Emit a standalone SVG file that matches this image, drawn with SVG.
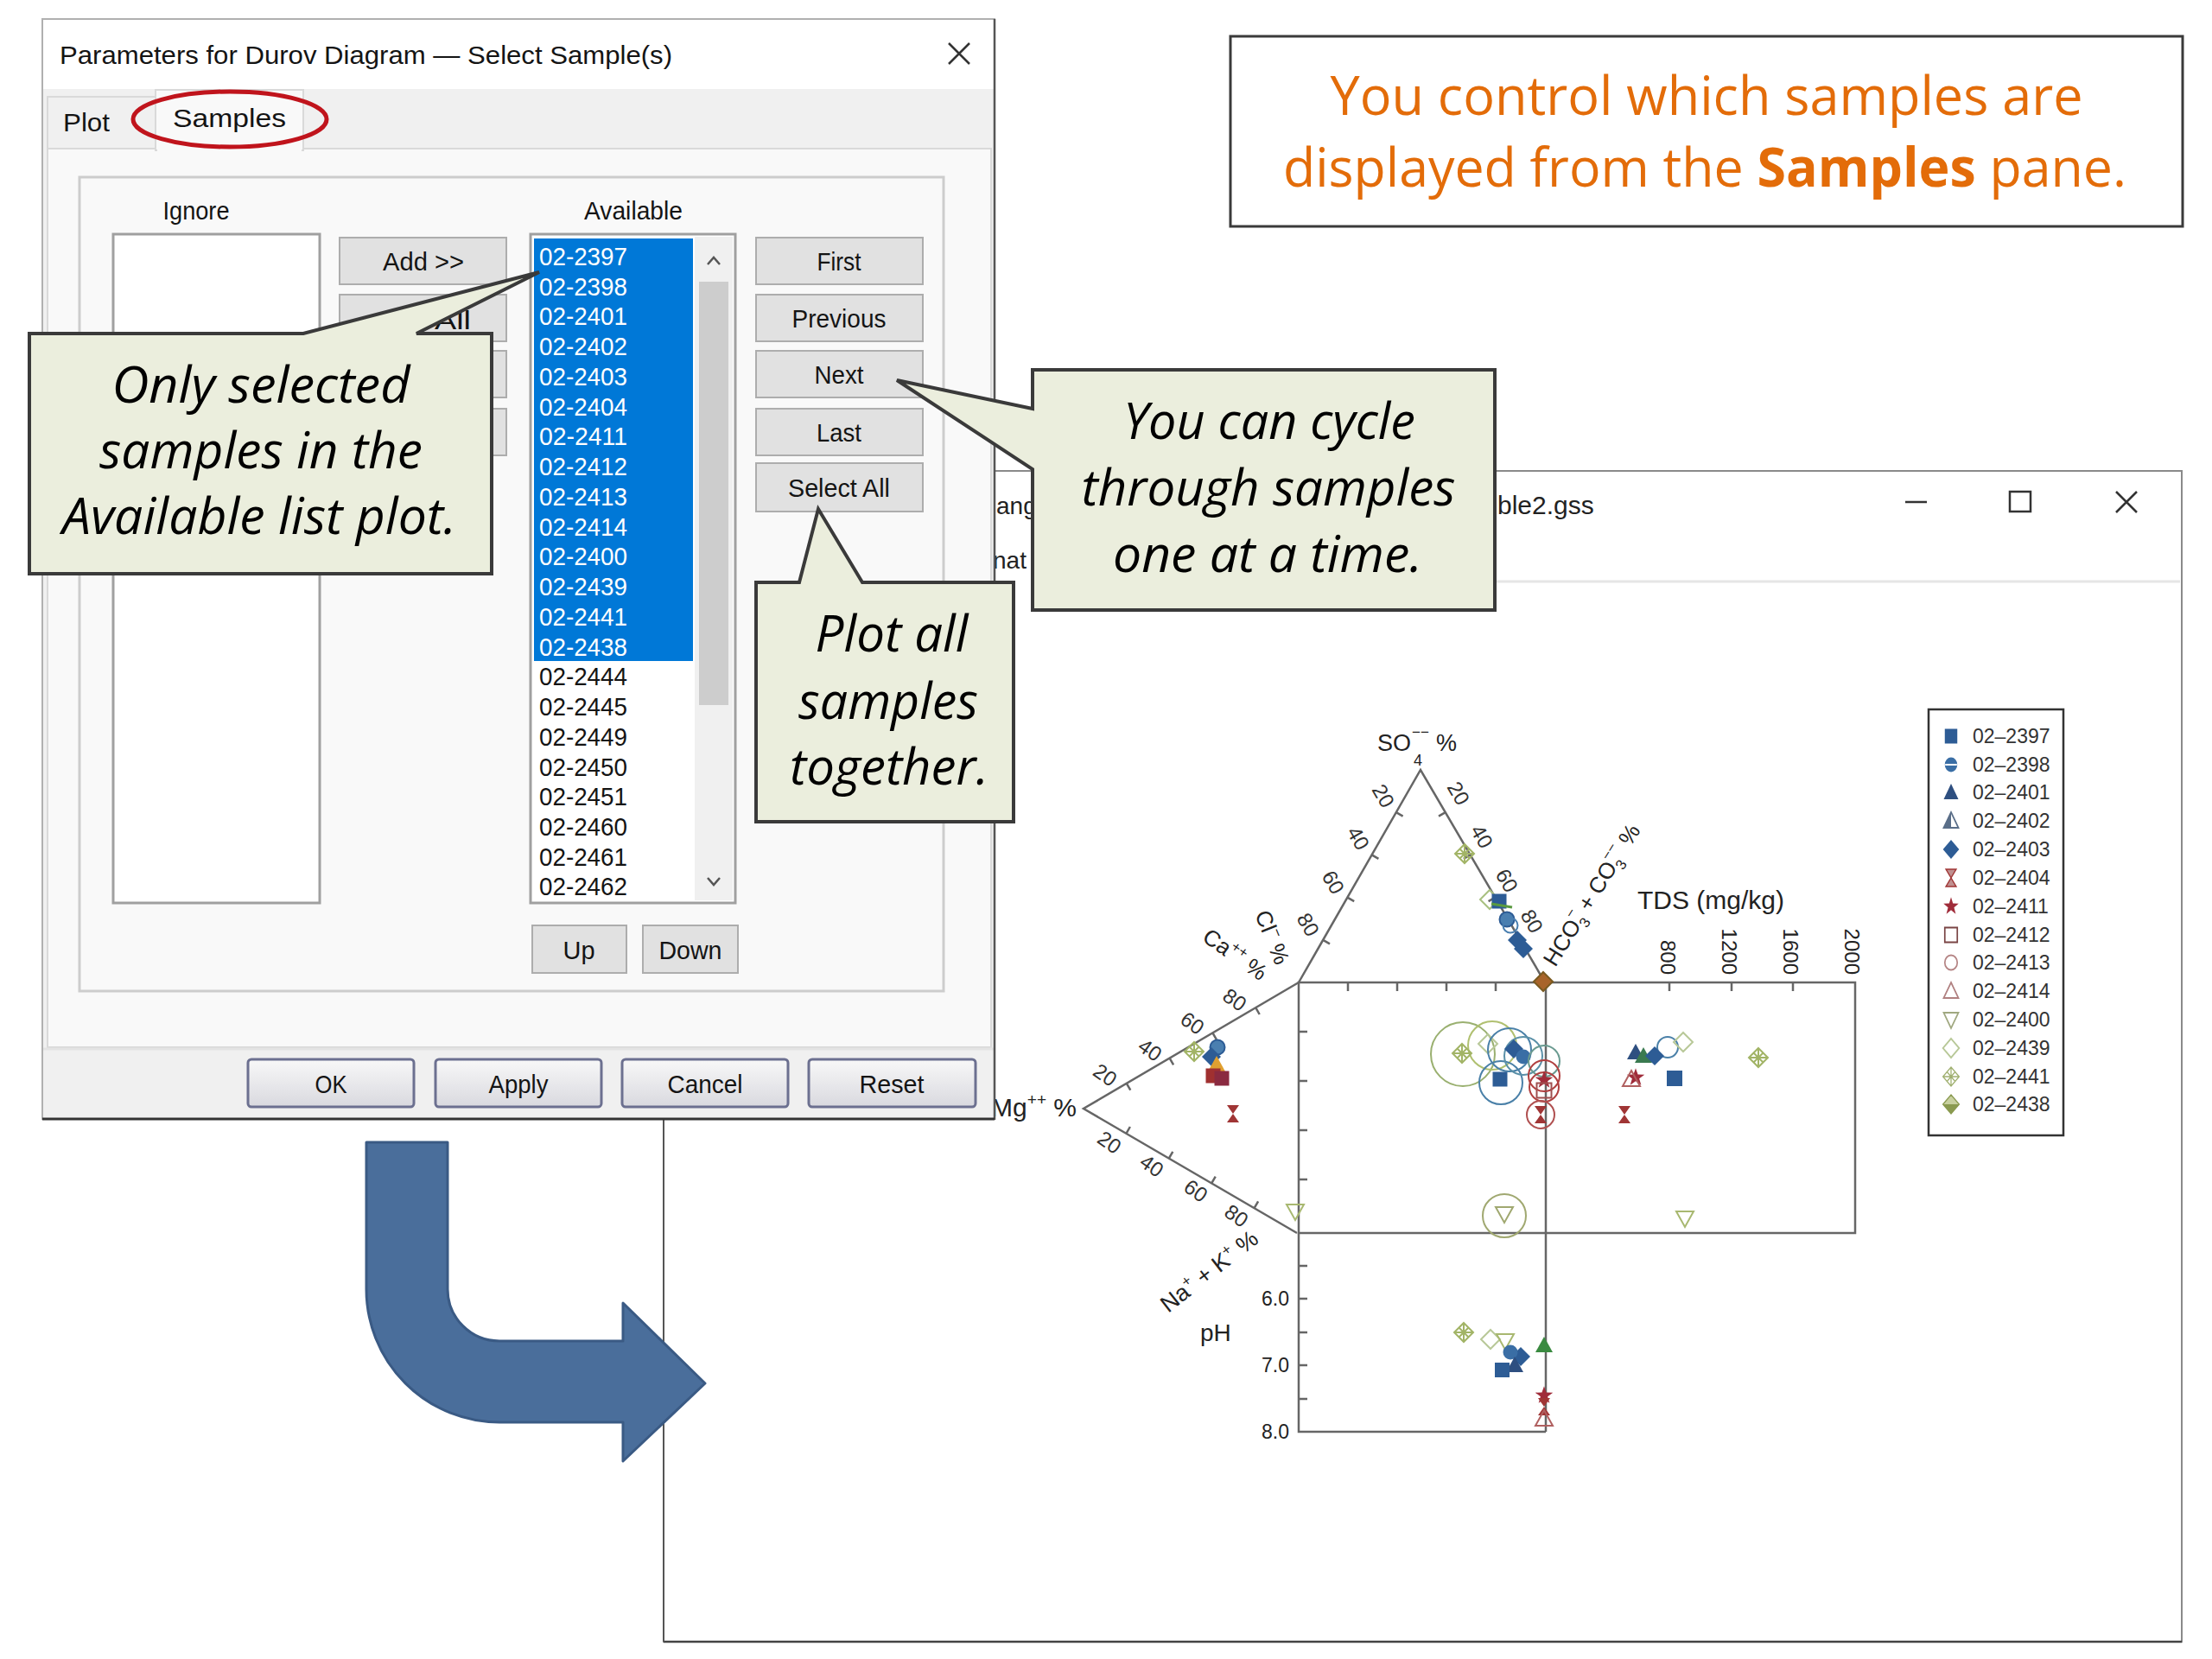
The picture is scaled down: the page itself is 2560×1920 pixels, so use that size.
<svg xmlns="http://www.w3.org/2000/svg" xmlns:xlink="http://www.w3.org/1999/xlink" width="2560" height="1920" viewBox="0 0 2560 1920">
<style>
.ui{font-family:"Liberation Sans",Arial,sans-serif;fill:#141414;font-size:30px}
.mid{text-anchor:middle}
.sel{fill:#ffffff}
.btn{fill:#e1e1e1;stroke:#adadad;stroke-width:2}
.bb{fill:url(#bgrad);stroke:#6c7090;stroke-width:3}
.co{font-family:"Open Sans","Noto Sans",sans-serif;font-style:italic;fill:#000;font-size:58px;text-anchor:middle}
.callout{fill:#ebeedd;stroke:#3a3a3a;stroke-width:4;stroke-linejoin:miter}
.ax{stroke:#666;stroke-width:2.5;fill:none}
.pl{font-family:"Liberation Sans",Arial,sans-serif;fill:#222}
.tk{font-family:"Liberation Sans",Arial,sans-serif;fill:#333;font-size:24px;text-anchor:middle;dominant-baseline:central}
.lg{font-family:"Liberation Sans",Arial,sans-serif;fill:#333;font-size:23px}
</style>
<defs>
<linearGradient id="bgrad" x1="0" y1="0" x2="0" y2="1"><stop offset="0" stop-color="#f8f8f8"/><stop offset="1" stop-color="#d9d9df"/></linearGradient>
<rect id="s-sq" x="-8.5" y="-8.5" width="17" height="17"/>
<circle id="s-ci" r="8.5"/>
<polygon id="s-tri" points="0,-10 10,8 -10,8"/>
<polygon id="s-dtri" points="-10,-8 10,-8 0,10"/>
<polygon id="s-dia" points="0,-11 11,0 0,11 -11,0"/>
<path id="s-hg" d="M-7,-10 H7 L-7,10 H7 Z"/>
<polygon id="s-star" points="0,-10.8 2.54,-3.49 10.27,-3.34 4.1,1.33 6.35,8.74 0,4.32 -6.35,8.74 -4.1,1.33 -10.27,-3.34 -2.54,-3.49"/>
<path id="s-dx" d="M0,-11 L11,0 L0,11 L-11,0 Z M0,-11 V11 M-11,0 H11 M-5.5,-5.5 L5.5,5.5 M5.5,-5.5 L-5.5,5.5"/>
</defs>
<rect width="2560" height="1920" fill="#ffffff"/>

<g id="plot-window">
<rect x="768" y="545" width="1757" height="1355" fill="#ffffff" stroke="#8a8a8a" stroke-width="2"/>
<line x1="768" y1="1900" x2="2525" y2="1900" stroke="#444" stroke-width="2.5"/>
<line x1="768" y1="545" x2="768" y2="1900" stroke="#555" stroke-width="2"/>
<line x1="1730" y1="673" x2="2523" y2="673" stroke="#e6e6e6" stroke-width="3"/>
<text class="pl" x="1733" y="595" font-size="30" fill="#333">ble2.gss</text>
<text class="pl" x="1153" y="595" font-size="28" fill="#333">ang</text>
<text class="pl" x="1149" y="658" font-size="28" fill="#333">nat</text>
<line x1="2205" y1="581" x2="2230" y2="581" stroke="#333" stroke-width="2.5"/>
<rect x="2326" y="569" width="24" height="23" fill="none" stroke="#333" stroke-width="2.5"/>
<path d="M2449,569 L2473,593 M2473,569 L2449,593" stroke="#333" stroke-width="2.5"/>
</g>

<g id="durov-plot">
<g class="ax">
<polyline points="1503,1137 1644,891 1788,1137"/>
<polyline points="1503,1137 1254,1283 1501,1427"/>
<rect x="1503" y="1137" width="644" height="290"/>
<line x1="1789" y1="1137" x2="1789" y2="1657"/>
<polyline points="1503,1427 1503,1657 1789,1657"/>
<path d="M1531.2,1087.8 l7.8,4.5 M1559.4,1038.6 l7.8,4.5 M1587.6,989.4 l7.8,4.5 M1615.8,940.2 l7.8,4.5 M1759.2,1087.8 l-7.8,4.5 M1730.4,1038.6 l-7.8,4.5 M1701.6,989.4 l-7.8,4.5 M1672.8,940.2 l-7.8,4.5 M1303.8,1253.8 l4.5,7.8 M1353.6,1224.6 l4.5,7.8 M1403.4,1195.4 l4.5,7.8 M1453.2,1166.2 l4.5,7.8 M1303.4,1311.8 l4.5,-7.8 M1352.8,1340.6 l4.5,-7.8 M1402.2,1369.4 l4.5,-7.8 M1451.6,1398.2 l4.5,-7.8 M1560,1137 v10 M1617,1137 v10 M1674,1137 v10 M1731,1137 v10 M1932,1137 v10 M2004,1137 v10 M2075,1137 v10 M1503,1194 h10 M1503,1251 h10 M1503,1308 h10 M1503,1365 h10 M1503,1465 h10 M1503,1503 h10 M1503,1542 h10 M1503,1580 h10 M1503,1619 h10"/>
</g>
<g class="tk">
<text transform="translate(1601,921) rotate(60)">20</text>
<text transform="translate(1572,970) rotate(60)">40</text>
<text transform="translate(1543,1021) rotate(60)">60</text>
<text transform="translate(1514,1070) rotate(60)">80</text>
<text transform="translate(1688,918) rotate(60)">20</text>
<text transform="translate(1715,968) rotate(60)">40</text>
<text transform="translate(1744,1019) rotate(60)">60</text>
<text transform="translate(1773,1066) rotate(60)">80</text>
<text transform="translate(1279,1244) rotate(35)">20</text>
<text transform="translate(1331,1215) rotate(35)">40</text>
<text transform="translate(1380,1184) rotate(35)">60</text>
<text transform="translate(1429,1157) rotate(35)">80</text>
<text transform="translate(1284,1322) rotate(35)">20</text>
<text transform="translate(1333,1349) rotate(35)">40</text>
<text transform="translate(1384,1378) rotate(35)">60</text>
<text transform="translate(1431,1407) rotate(35)">80</text>
</g>
<g class="pl" font-size="24" text-anchor="end">
<text transform="translate(1922,1128) rotate(90)">800</text>
<text transform="translate(1993,1128) rotate(90)">1200</text>
<text transform="translate(2064,1128) rotate(90)">1600</text>
<text transform="translate(2135,1128) rotate(90)">2000</text>
<text x="1492" y="1511" font-size="23">6.0</text>
<text x="1492" y="1588" font-size="23">7.0</text>
<text x="1492" y="1665" font-size="23">8.0</text>
</g>
<g class="pl" font-size="27">
<text x="1594" y="869">SO</text>
<text x="1636" y="886" font-size="18">4</text>
<text x="1634" y="853" font-size="17">−−</text>
<text x="1662" y="869"> %</text>
<text x="1895" y="1052" font-size="30">TDS (mg/kg)</text>
<text x="1246" y="1292" text-anchor="end" font-size="30">Mg<tspan font-size="19" dy="-13">++</tspan><tspan dy="13"> %</tspan></text>
<text x="1389" y="1552" font-size="28">pH</text>
<text transform="translate(1800,1120) rotate(-58)" font-size="26">HCO<tspan font-size="17" dy="7">3</tspan><tspan font-size="17" dx="-9" dy="-20">−</tspan><tspan dy="13"> + CO</tspan><tspan font-size="17" dy="7">3</tspan><tspan font-size="17" dx="-9" dy="-20">−−</tspan><tspan dy="13"> %</tspan></text>
<text transform="translate(1390,1088) rotate(35)" font-size="26">Ca<tspan font-size="17" dy="-11">++</tspan><tspan dy="11"> %</tspan></text>
<text transform="translate(1452,1058) rotate(68)" font-size="26">Cl<tspan font-size="17" dy="-11">−</tspan><tspan dy="11"> %</tspan></text>
<text transform="translate(1352,1520) rotate(-38)" font-size="27">Na<tspan font-size="17" dy="-11">+</tspan><tspan dy="11"> + K</tspan><tspan font-size="17" dy="-11">+</tspan><tspan dy="11"> %</tspan></text>
</g>
<g id="plot-symbols" stroke-width="2">
<use href="#s-dx" x="1695" y="988" fill="none" stroke="#a2b466"/>
<use href="#s-dia" x="1724" y="1041" fill="none" stroke="#a8c080"/>
<use href="#s-sq" x="1735" y="1043" fill="#2d5c95"/>
<line x1="1726" y1="1046" x2="1750" y2="1050" stroke="#5a9a40" stroke-width="3"/>
<use href="#s-ci" x="1744" y="1064" fill="#4a7fb0" stroke="#2d5c95"/>
<use href="#s-ci" x="1748" y="1071" fill="none" stroke="#4a7fb0"/>
<use href="#s-dia" x="1756" y="1088" fill="#2d5c95"/>
<use href="#s-dia" x="1763" y="1098" fill="#2d5c95"/>
<use href="#s-dia" x="1786" y="1136" fill="#a8642a" stroke="#7a5a20"/>
<use href="#s-dx" x="1382" y="1217" fill="none" stroke="#a2b466"/>
<use href="#s-ci" x="1409" y="1212" fill="#4a7fb0" stroke="#2d5c95"/>
<use href="#s-dia" x="1402" y="1223" fill="#2d5c95"/>
<use href="#s-tri" x="1408" y="1232" fill="#e0a030"/>
<use href="#s-sq" x="1404" y="1245" fill="#a03030"/>
<use href="#s-sq" x="1414" y="1248" fill="#8a2a40"/>
<use href="#s-hg" x="1427" y="1289" fill="#a03535"/>
<use href="#s-dtri" x="1499" y="1402" fill="none" stroke="#a8b870"/>
<circle cx="1693" cy="1220" r="37" fill="none" stroke="#9ab070"/>
<circle cx="1727" cy="1210" r="28" fill="none" stroke="#b0c070"/>
<use href="#s-dx" x="1692" y="1219" fill="none" stroke="#a2b466"/>
<use href="#s-dia" x="1722" y="1208" fill="none" stroke="#b8c898"/>
<circle cx="1747" cy="1215" r="25" fill="none" stroke="#4a80a8"/>
<circle cx="1737" cy="1253" r="25" fill="none" stroke="#4a80a8"/>
<circle cx="1763" cy="1222" r="22" fill="none" stroke="#5a90a8"/>
<use href="#s-dia" x="1752" y="1214" fill="#2d5c95"/>
<use href="#s-ci" x="1763" y="1223" fill="#3a6ea5"/>
<use href="#s-sq" x="1736" y="1249" fill="#2d5c95"/>
<circle cx="1787" cy="1228" r="18" fill="none" stroke="#6a9a90"/>
<circle cx="1787" cy="1245" r="18" fill="none" stroke="#b04040"/>
<circle cx="1787" cy="1258" r="17" fill="none" stroke="#b04040"/>
<use href="#s-star" x="1787" y="1250" fill="#a02c3a"/>
<use href="#s-sq" x="1787" y="1262" fill="none" stroke="#a05050"/>
<circle cx="1783" cy="1290" r="16" fill="none" stroke="#b05050"/>
<use href="#s-hg" x="1783" y="1290" fill="#a03535"/>
<circle cx="1741" cy="1407" r="25" fill="none" stroke="#a0a870"/>
<use href="#s-dtri" x="1741" y="1405" fill="none" stroke="#a0a870"/>
<use href="#s-tri" x="1893" y="1218" fill="#2e4f80"/>
<use href="#s-tri" x="1902" y="1222" fill="#3a7a50"/>
<circle cx="1930" cy="1212" r="12" fill="none" stroke="#4a80a8"/>
<use href="#s-dia" x="1948" y="1206" fill="none" stroke="#b8c898"/>
<use href="#s-dia" x="1915" y="1222" fill="#2d5c95"/>
<rect x="1929" y="1239" width="18" height="18" fill="#2d5c95"/>
<use href="#s-star" x="1893" y="1247" fill="#a02c3a"/>
<use href="#s-tri" x="1888" y="1249" fill="none" stroke="#b06060"/>
<use href="#s-hg" x="1880" y="1290" fill="#a03535"/>
<use href="#s-dx" x="2035" y="1224" fill="none" stroke="#a2b466"/>
<use href="#s-dtri" x="1950" y="1410" fill="none" stroke="#a8b870"/>
<use href="#s-dx" x="1694" y="1542" fill="none" stroke="#a2b466"/>
<use href="#s-dia" x="1725" y="1550" fill="none" stroke="#b8c898"/>
<use href="#s-dtri" x="1742" y="1552" fill="none" stroke="#a8b870"/>
<use href="#s-dia" x="1760" y="1570" fill="#2d5c95"/>
<use href="#s-ci" x="1748" y="1565" fill="#3a6ea5"/>
<use href="#s-tri" x="1753" y="1580" fill="#2e4f80"/>
<rect x="1730" y="1577" width="17" height="17" fill="#2d5c95"/>
<use href="#s-tri" x="1787" y="1557" fill="#3a8a40"/>
<use href="#s-star" x="1787" y="1615" fill="#a02c3a"/>
<use href="#s-hg" x="1787" y="1628" fill="#a03535"/>
<use href="#s-tri" x="1787" y="1642" fill="none" stroke="#b06060"/>
</g>
<g id="legend">
<rect x="2232" y="821" width="156" height="493" fill="#ffffff" stroke="#333" stroke-width="2.5"/>
<g transform="translate(2258,0) scale(0.85,1)">
<use href="#s-sq" x="0" y="852" fill="#2d5c95"/>
<use href="#s-ci" x="0" y="885" fill="#3a6ea5"/><line x1="-8" y1="885" x2="8" y2="885" stroke="#fff" stroke-width="2"/>
<use href="#s-tri" x="0" y="917" fill="#2e4f80"/>
<use href="#s-tri" x="0" y="950" fill="none" stroke="#5a6e88" stroke-width="2"/><polygon points="0,940 0,958 -10,958" fill="#5a6e88"/>
<use href="#s-dia" x="0" y="983" fill="#2d5c95"/>
<use href="#s-hg" x="0" y="1016" fill="#c09090" stroke="#a03535" stroke-width="1.5"/>
<use href="#s-star" x="0" y="1049" fill="#a02c3a"/>
<use href="#s-sq" x="0" y="1082" fill="none" stroke="#7a4545" stroke-width="2"/>
<use href="#s-ci" x="0" y="1114" fill="none" stroke="#b58585" stroke-width="2"/>
<use href="#s-tri" x="0" y="1147" fill="none" stroke="#b08080" stroke-width="2"/>
<use href="#s-dtri" x="0" y="1180" fill="none" stroke="#a0a880" stroke-width="2"/>
<use href="#s-dia" x="0" y="1213" fill="none" stroke="#b8c898" stroke-width="2"/>
<use href="#s-dx" x="0" y="1246" fill="none" stroke="#a0b070" stroke-width="1.5"/>
<use href="#s-dia" x="0" y="1278" fill="#c8d0a0" stroke="#8a9a50" stroke-width="1.5"/><polygon points="-11,1278 11,1278 0,1289" fill="#8a9a50"/>
</g>
<g class="lg">
<text x="2283" y="860">02–2397</text>
<text x="2283" y="893">02–2398</text>
<text x="2283" y="925">02–2401</text>
<text x="2283" y="958">02–2402</text>
<text x="2283" y="991">02–2403</text>
<text x="2283" y="1024">02–2404</text>
<text x="2283" y="1057">02–2411</text>
<text x="2283" y="1090">02–2412</text>
<text x="2283" y="1122">02–2413</text>
<text x="2283" y="1155">02–2414</text>
<text x="2283" y="1188">02–2400</text>
<text x="2283" y="1221">02–2439</text>
<text x="2283" y="1254">02–2441</text>
<text x="2283" y="1286">02–2438</text>
</g>
</g>
</g>

<g id="dialog">
<rect x="49" y="22" width="1102" height="1273" fill="#f0f0f0" stroke="#b0b0b0" stroke-width="2"/>
<rect x="50" y="23" width="1100" height="80" fill="#ffffff"/>
<text class="ui" x="69" y="74" textLength="709" lengthAdjust="spacingAndGlyphs">Parameters for Durov Diagram — Select Sample(s)</text>
<path d="M1098,50 L1122,74 M1122,50 L1098,74" stroke="#333" stroke-width="2.5"/>
<rect x="55" y="172" width="1092" height="1040" fill="#f9f9f9" stroke="#d9d9d9" stroke-width="2"/>
<rect x="55" y="112" width="125" height="60" fill="#f0f0f0" stroke="#d9d9d9" stroke-width="2"/>
<rect x="180" y="104" width="171" height="70" fill="#f9f9f9" stroke="#d9d9d9" stroke-width="2"/>
<rect x="182" y="166" width="167" height="10" fill="#f9f9f9"/>
<text class="ui" x="73" y="152" font-size="32" textLength="54" lengthAdjust="spacingAndGlyphs">Plot</text>
<text class="ui" x="200" y="147" font-size="32" textLength="131" lengthAdjust="spacingAndGlyphs">Samples</text>
<ellipse cx="266" cy="138" rx="112" ry="32" fill="none" stroke="#c0141c" stroke-width="5"/>
<rect x="92" y="205" width="1000" height="942" fill="none" stroke="#cdcdcd" stroke-width="3"/>
<text class="ui mid" x="227" y="254" textLength="77" lengthAdjust="spacingAndGlyphs">Ignore</text>
<text class="ui mid" x="733" y="254" textLength="114" lengthAdjust="spacingAndGlyphs">Available</text>
<rect x="131" y="271" width="239" height="774" fill="#ffffff" stroke="#a0a0a0" stroke-width="3"/>
<rect x="393" y="275" width="193" height="54" class="btn"/>
<rect x="393" y="341" width="193" height="54" class="btn"/>
<rect x="393" y="406" width="193" height="54" class="btn"/>
<rect x="393" y="473" width="193" height="54" class="btn"/>
<text class="ui mid" x="490" y="313" textLength="94" lengthAdjust="spacingAndGlyphs">Add &gt;&gt;</text>
<text class="ui" x="503" y="381" textLength="42" lengthAdjust="spacingAndGlyphs">All</text>
<rect x="614" y="271" width="237" height="774" fill="#ffffff" stroke="#a0a0a0" stroke-width="3"/>
<rect x="618" y="276" width="184" height="489" fill="#0078d7"/>
<rect x="804" y="274" width="44" height="768" fill="#f0f0f0"/>
<rect x="809" y="326" width="34" height="490" fill="#cdcdcd"/>
<polyline points="819,306 826,298 833,306" fill="none" stroke="#555" stroke-width="2.5"/>
<polyline points="819,1016 826,1024 833,1016" fill="none" stroke="#555" stroke-width="2.5"/>
<g class="ui" font-size="30">
<text class="sel" x="624" y="307" textLength="102" lengthAdjust="spacingAndGlyphs">02-2397</text>
<text class="sel" x="624" y="342" textLength="102" lengthAdjust="spacingAndGlyphs">02-2398</text>
<text class="sel" x="624" y="376" textLength="102" lengthAdjust="spacingAndGlyphs">02-2401</text>
<text class="sel" x="624" y="411" textLength="102" lengthAdjust="spacingAndGlyphs">02-2402</text>
<text class="sel" x="624" y="446" textLength="102" lengthAdjust="spacingAndGlyphs">02-2403</text>
<text class="sel" x="624" y="481" textLength="102" lengthAdjust="spacingAndGlyphs">02-2404</text>
<text class="sel" x="624" y="515" textLength="102" lengthAdjust="spacingAndGlyphs">02-2411</text>
<text class="sel" x="624" y="550" textLength="102" lengthAdjust="spacingAndGlyphs">02-2412</text>
<text class="sel" x="624" y="585" textLength="102" lengthAdjust="spacingAndGlyphs">02-2413</text>
<text class="sel" x="624" y="620" textLength="102" lengthAdjust="spacingAndGlyphs">02-2414</text>
<text class="sel" x="624" y="654" textLength="102" lengthAdjust="spacingAndGlyphs">02-2400</text>
<text class="sel" x="624" y="689" textLength="102" lengthAdjust="spacingAndGlyphs">02-2439</text>
<text class="sel" x="624" y="724" textLength="102" lengthAdjust="spacingAndGlyphs">02-2441</text>
<text class="sel" x="624" y="759" textLength="102" lengthAdjust="spacingAndGlyphs">02-2438</text>
<text x="624" y="793" textLength="102" lengthAdjust="spacingAndGlyphs">02-2444</text>
<text x="624" y="828" textLength="102" lengthAdjust="spacingAndGlyphs">02-2445</text>
<text x="624" y="863" textLength="102" lengthAdjust="spacingAndGlyphs">02-2449</text>
<text x="624" y="898" textLength="102" lengthAdjust="spacingAndGlyphs">02-2450</text>
<text x="624" y="932" textLength="102" lengthAdjust="spacingAndGlyphs">02-2451</text>
<text x="624" y="967" textLength="102" lengthAdjust="spacingAndGlyphs">02-2460</text>
<text x="624" y="1002" textLength="102" lengthAdjust="spacingAndGlyphs">02-2461</text>
<text x="624" y="1036" textLength="102" lengthAdjust="spacingAndGlyphs">02-2462</text>
</g>
<rect x="875" y="275" width="193" height="54" class="btn"/>
<rect x="875" y="341" width="193" height="54" class="btn"/>
<rect x="875" y="406" width="193" height="54" class="btn"/>
<rect x="875" y="473" width="193" height="54" class="btn"/>
<rect x="875" y="536" width="193" height="56" class="btn"/>
<text class="ui mid" x="971" y="313" textLength="51" lengthAdjust="spacingAndGlyphs">First</text>
<text class="ui mid" x="971" y="379" textLength="109" lengthAdjust="spacingAndGlyphs">Previous</text>
<text class="ui mid" x="971" y="444" textLength="57" lengthAdjust="spacingAndGlyphs">Next</text>
<text class="ui mid" x="971" y="511" textLength="52" lengthAdjust="spacingAndGlyphs">Last</text>
<text class="ui mid" x="971" y="575" textLength="118" lengthAdjust="spacingAndGlyphs">Select All</text>
<rect x="616" y="1071" width="109" height="55" class="btn"/>
<rect x="744" y="1071" width="110" height="55" class="btn"/>
<text class="ui mid" x="670" y="1110" textLength="37" lengthAdjust="spacingAndGlyphs">Up</text>
<text class="ui mid" x="799" y="1110" textLength="73" lengthAdjust="spacingAndGlyphs">Down</text>
<line x1="50" y1="1214" x2="1150" y2="1214" stroke="#e3e3e3" stroke-width="3"/>
<rect x="287" y="1226" width="192" height="55" rx="4" class="bb"/>
<rect x="504" y="1226" width="192" height="55" rx="4" class="bb" stroke="#3a3ad0" stroke-width="4"/>
<rect x="720" y="1226" width="192" height="55" rx="4" class="bb"/>
<rect x="936" y="1226" width="193" height="55" rx="4" class="bb"/>
<text class="ui mid" x="383" y="1265" textLength="37" lengthAdjust="spacingAndGlyphs">OK</text>
<text class="ui mid" x="600" y="1265" textLength="69" lengthAdjust="spacingAndGlyphs">Apply</text>
<text class="ui mid" x="816" y="1265" textLength="87" lengthAdjust="spacingAndGlyphs">Cancel</text>
<text class="ui mid" x="1032" y="1265" textLength="75" lengthAdjust="spacingAndGlyphs">Reset</text>
<line x1="1151" y1="22" x2="1151" y2="1296" stroke="#555" stroke-width="2.5"/>
<line x1="49" y1="1295" x2="1151" y2="1295" stroke="#333" stroke-width="3"/>
</g>

<g id="bent-arrow">
<path d="M424,1322 H518 V1492 A60,60 0 0 0 578,1552 H721 V1508 L816,1601 L721,1691 V1646 H578 A154,154 0 0 1 424,1492 Z" fill="#4a6e9b" stroke="#3a5a84" stroke-width="3" stroke-linejoin="round"/>
</g>

<g id="callout-available">
<path class="callout" d="M34,386 H351 L624,315 L482,386 H569 V664 H34 Z"/>
<text class="co" x="302" y="466" textLength="345" lengthAdjust="spacingAndGlyphs">Only selected</text>
<text class="co" x="302" y="542" textLength="374" lengthAdjust="spacingAndGlyphs">samples in the</text>
<text class="co" x="300" y="618" textLength="456" lengthAdjust="spacingAndGlyphs">Available list plot.</text>
</g>

<g id="callout-selectall">
<path class="callout" d="M875,674 H925 L947,589 L998,674 H1173 V951 H875 Z"/>
<text class="co" x="1032" y="754" textLength="177" lengthAdjust="spacingAndGlyphs">Plot all</text>
<text class="co" x="1028" y="832" textLength="208" lengthAdjust="spacingAndGlyphs">samples</text>
<text class="co" x="1029" y="908" textLength="230" lengthAdjust="spacingAndGlyphs">together.</text>
</g>

<g id="callout-next">
<path class="callout" d="M1195,428 H1730 V706 H1195 V543 L1038,440 L1195,473 Z"/>
<text class="co" x="1469" y="508" textLength="338" lengthAdjust="spacingAndGlyphs">You can cycle</text>
<text class="co" x="1468" y="585" textLength="433" lengthAdjust="spacingAndGlyphs">through samples</text>
<text class="co" x="1467" y="662" textLength="358" lengthAdjust="spacingAndGlyphs">one at a time.</text>
</g>

<g id="note-box">
<rect x="1424" y="42" width="1102" height="220" fill="#ffffff" stroke="#3a3a3a" stroke-width="3"/>
<text x="1975" y="133" font-family="'Open Sans','Noto Sans',sans-serif" font-size="62" fill="#e36c09" text-anchor="middle" textLength="871" lengthAdjust="spacingAndGlyphs">You control which samples are</text>
<text x="1973" y="216" font-family="'Open Sans','Noto Sans',sans-serif" font-size="62" fill="#e36c09" text-anchor="middle" textLength="976" lengthAdjust="spacingAndGlyphs">displayed from the <tspan font-weight="700">Samples</tspan> pane.</text>
</g>
</svg>
